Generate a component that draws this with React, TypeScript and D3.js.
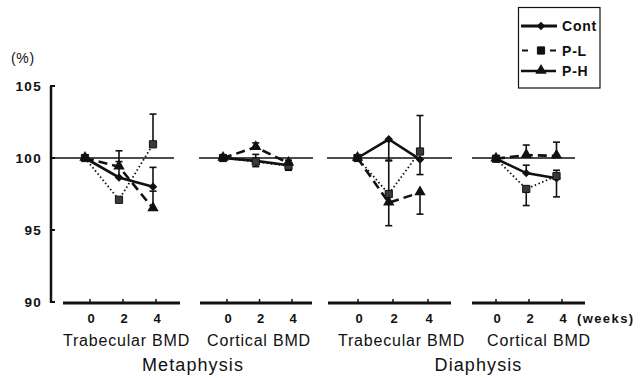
import React from "react";
import * as d3 from "d3";

// ---- data ----
const weeks = [0, 2, 4];
const panelTitles = ["Trabecular BMD", "Cortical BMD", "Trabecular BMD", "Cortical BMD"];
const groupLabels = ["Metaphysis", "Diaphysis"];
const yTicks = [90, 95, 100, 105];
const seriesNames = ["Cont", "P-L", "P-H"];

// values per panel: [Cont, P-L, P-H]
const contValues = [
  [100, 98.65, 98.0],
  [100, 99.8, 99.5],
  [100, 101.3, 99.9],
  [99.95, 98.95, 98.6],
];
const plValues = [
  [100, 97.1, 100.95],
  [100, 99.75, 99.45],
  [100, 97.5, 100.45],
  [99.95, 97.85, 98.75],
];
const phValues = [
  [100, 99.4, 96.5],
  [100, 100.75, 99.65],
  [100, 96.9, 97.6],
  [99.95, 100.2, 100.15],
];
// error bars (upward / downward lengths)
const contErrUp = [[0, 1.85, 1.35], [0, 0.45, 0.35], [0, 0, 0], [0, 0.55, 0]];
const contErrDown = [[0, 0, 0], [0, 0.4, 0.35], [0, 1.5, 1.05], [0, 0, 1.3]];
const plErrUp = [[0, 0, 2.1], [0, 0, 0], [0, 2.35, 2.5], [0, 0, 0.4]];
const plErrDown = [[0, 0, 0], [0, 0, 0], [0, 0, 0], [0, 1.15, 0]];
const phErrUp = [[0, 0.35, 1.2], [0, 0.3, 0], [0, 0, 0], [0, 0.7, 0.95]];
const phErrDown = [[0, 0, 0], [0, 0, 0], [0, 1.6, 1.5], [0, 0, 0]];

// ---- layout ----
const W = 644, H = 378;
const panels = [
  { data: [85, 153], ticks: [90, 156], axis: [63, 180], ref: [53, 174], title: 126.5 },
  { data: [223, 288.5], ticks: [227, 292], axis: [200, 312], ref: [199, 313], title: 259 },
  { data: [357.5, 420], ticks: [358, 428], axis: [328, 451], ref: [327, 452], title: 401.5 },
  { data: [496, 556.5], ticks: [496, 562], axis: [472, 585], ref: [472, 575], title: 539 },
];
const groupX = [193, 478.5];
const axisY = 303;
const y = d3.scaleLinear().domain([90, 105]).range([302, 86]);

const FONT = "Liberation Sans, Arial, sans-serif";

const styles = [
  { width: 2.6, dash: "none", marker: "diamond" },
  { width: 1.8, dash: "1.5,2.5", marker: "square" },
  { width: 2.6, dash: "9,5", marker: "triangle" },
];

function markerPath(kind: string) {
  if (kind === "square") return d3.symbol(d3.symbolSquare, 52)()!;
  if (kind === "triangle") return d3.symbol(d3.symbolTriangle, 56)()!;
  return d3.symbol(d3.symbolSquare, 36)()!;
}

function Marker({ kind, x, yy, fill }: { kind: string; x: number; yy: number; fill?: string }) {
  const rot = kind === "diamond" ? " rotate(45)" : "";
  const dy = kind === "triangle" ? -0.5 : 0;
  return (
    <path
      d={markerPath(kind)}
      transform={`translate(${x},${yy + dy})${rot}`}
      fill={fill || "#111"}
      stroke={kind === "square" ? "#111" : "none"}
      strokeWidth={1}
    />
  );
}

export default function App() {
  const allValues = [contValues, plValues, phValues];
  const allUp = [contErrUp, plErrUp, phErrUp];
  const allDown = [contErrDown, plErrDown, phErrDown];

  return (
    <svg width={W} height={H} style={{ position: "absolute", left: 0, top: 0, background: "#fff" }}>
      {/* y axis */}
      <line x1={51} x2={51} y1={y(105)} y2={y(90) + 1} stroke="#111" strokeWidth={2.5} />
      {yTicks.map((t) => (
        <g key={t}>
          <line x1={50} x2={55} y1={y(t)} y2={y(t)} stroke="#111" strokeWidth={2} />
          <text x={42} y={y(t) + 4.5} textAnchor="end" fontFamily={FONT} fontWeight="bold" fontSize={13.5} letterSpacing={1.3} fill="#111">
            {t}
          </text>
        </g>
      ))}
      <text x={23} y={63} textAnchor="middle" fontFamily={FONT} fontSize={14} letterSpacing={0.8} fill="#111">
        (%)
      </text>

      {panels.map((p, pi) => {
        const x = d3.scaleLinear().domain([0, 4]).range(p.data);
        const xt = d3.scaleLinear().domain([0, 4]).range(p.ticks);
        return (
          <g key={pi}>
            {/* reference line */}
            <line x1={p.ref[0]} x2={p.ref[1]} y1={y(100)} y2={y(100)} stroke="#111" strokeWidth={1.3} />
            {/* x axis */}
            <line x1={p.axis[0]} x2={p.axis[1]} y1={axisY} y2={axisY} stroke="#111" strokeWidth={2.8} />
            {weeks.map((w) => (
              <g key={w}>
                <line x1={xt(w)} x2={xt(w)} y1={axisY} y2={axisY - 4} stroke="#111" strokeWidth={1.5} />
                <text x={xt(w) + 1} y={323} textAnchor="middle" fontFamily={FONT} fontWeight="bold" fontSize={13} fill="#111">
                  {w}
                </text>
              </g>
            ))}
            <text x={p.title} y={346} textAnchor="middle" fontFamily={FONT} fontSize={16} letterSpacing={0.8} fill="#111">
              {panelTitles[pi]}
            </text>
            {/* series lines */}
            {allValues.map((vals, si) => {
              const line = d3
                .line<number>()
                .x((_, i) => x(weeks[i]))
                .y((v) => y(v));
              return (
                <path
                  key={si}
                  d={line(vals[pi])!}
                  fill="none"
                  stroke="#111"
                  strokeWidth={styles[si].width}
                  strokeDasharray={styles[si].dash}
                />
              );
            })}
            {/* error bars */}
            {allValues.map((vals, si) =>
              vals[pi].map((v, i) => {
                const up = allUp[si][pi][i];
                const dn = allDown[si][pi][i];
                const cx = x(weeks[i]);
                const items = [] as JSX.Element[];
                if (up > 0) {
                  items.push(
                    <g key={"u" + i}>
                      <line x1={cx} x2={cx} y1={y(v)} y2={y(v + up)} stroke="#111" strokeWidth={1.6} />
                      <line x1={cx - 3.5} x2={cx + 3.5} y1={y(v + up)} y2={y(v + up)} stroke="#111" strokeWidth={1.6} />
                    </g>
                  );
                }
                if (dn > 0) {
                  items.push(
                    <g key={"d" + i}>
                      <line x1={cx} x2={cx} y1={y(v)} y2={y(v - dn)} stroke="#111" strokeWidth={1.6} />
                      <line x1={cx - 3.5} x2={cx + 3.5} y1={y(v - dn)} y2={y(v - dn)} stroke="#111" strokeWidth={1.6} />
                    </g>
                  );
                }
                return <g key={si + "-" + i}>{items}</g>;
              })
            )}
            {/* markers */}
            {allValues.map((vals, si) =>
              vals[pi].map((v, i) => (
                <Marker
                  key={si + "m" + i}
                  kind={styles[si].marker}
                  x={x(weeks[i])}
                  yy={y(v)}
                  fill={si === 1 && i > 0 ? "#3a3a3a" : "#111"}
                />
              ))
            )}
          </g>
        );
      })}

      <text x={577} y={323} fontFamily={FONT} fontWeight="bold" fontSize={13} letterSpacing={1.4} fill="#111">
        (weeks)
      </text>
      {groupLabels.map((g, i) => (
        <text key={g} x={groupX[i]} y={371} textAnchor="middle" fontFamily={FONT} fontSize={18} letterSpacing={1.1} fill="#111">
          {g}
        </text>
      ))}

      {/* legend */}
      <rect x={518.5} y={7.5} width={81.5} height={80.5} fill="#fff" stroke="#111" strokeWidth={1.2} />
      {seriesNames.map((n, i) => {
        const ly = [26, 50.5, 71][i];
        return (
          <g key={n}>
            {i === 0 && <line x1={521} x2={557} y1={ly} y2={ly} stroke="#111" strokeWidth={3} />}
            {i === 1 && (
              <g>
                <line x1={522} x2={528} y1={ly} y2={ly} stroke="#111" strokeWidth={2} />
                <line x1={550} x2={556} y1={ly} y2={ly} stroke="#111" strokeWidth={2} />
              </g>
            )}
            {i === 2 && <line x1={521} x2={556} y1={ly} y2={ly} stroke="#111" strokeWidth={2.4} />}
            <Marker kind={styles[i].marker} x={541} yy={ly} />
            <text x={562} y={ly + 5} fontFamily={FONT} fontWeight="bold" fontSize={14} letterSpacing={0.8} fill="#111">
              {n}
            </text>
          </g>
        );
      })}
    </svg>
  );
}
